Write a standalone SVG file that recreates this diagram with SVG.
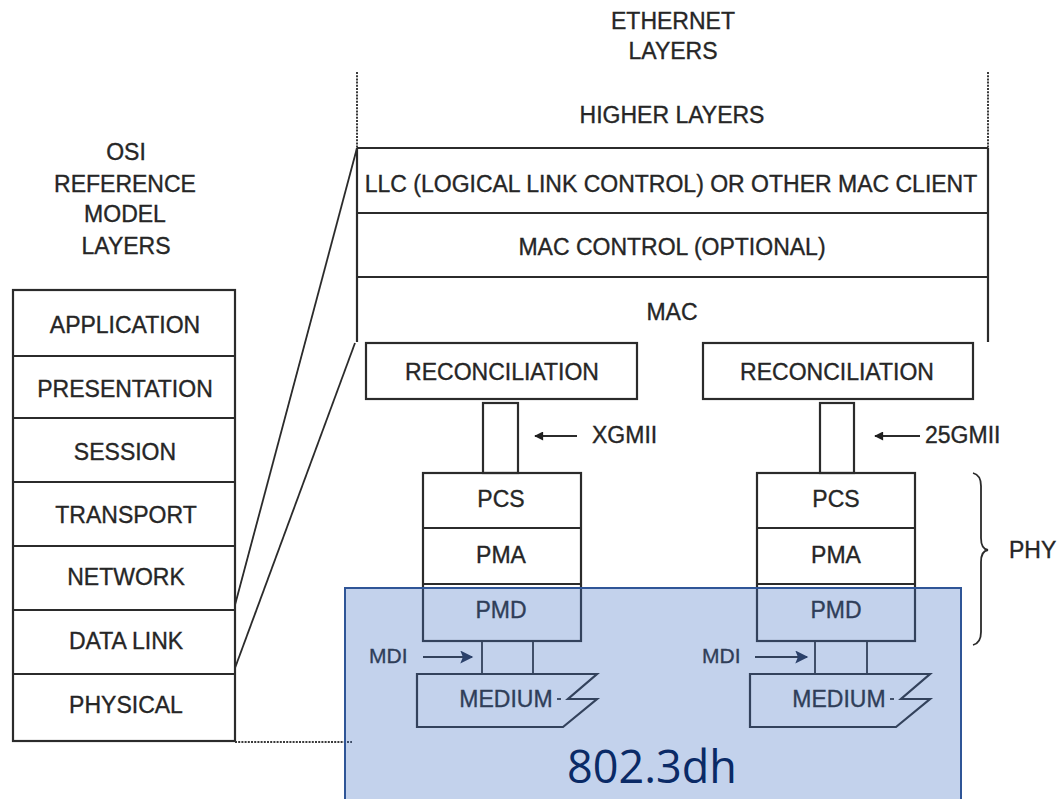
<svg xmlns="http://www.w3.org/2000/svg" width="1063" height="799" viewBox="0 0 1063 799">
  <style>
    .box { fill: none; stroke: #2b2b2b; stroke-width: 2.2; }
    .ln { fill: none; stroke: #2b2b2b; stroke-width: 1.8; }
    .dot { fill: none; stroke: #3a3a3a; stroke-width: 2; stroke-dasharray: 2 1.2; }
    .t { font-family: "Liberation Sans", Arial, sans-serif; font-size: 23px; fill: #262626; stroke: #262626; stroke-width: 0.35; text-anchor: middle; }
    .tl { font-family: "Liberation Sans", Arial, sans-serif; font-size: 23px; fill: #262626; stroke: #262626; stroke-width: 0.35; text-anchor: start; }
  </style>
  <defs>
    <marker id="head" viewBox="0 0 10 10" refX="9" refY="5" markerWidth="12" markerHeight="9" markerUnits="userSpaceOnUse" orient="auto">
      <path d="M0,0 L10,5 L0,10 Z" fill="#1f1f1f"/>
    </marker>
    <marker id="head-lg" viewBox="0 0 10 10" refX="9" refY="5" markerWidth="15" markerHeight="13" markerUnits="userSpaceOnUse" orient="auto">
      <path d="M0,0 L10,5 L0,10 L2,5 Z" fill="#1f2a40"/>
    </marker>
  </defs>
  <rect width="1063" height="799" fill="#ffffff"/>

  <!-- OSI reference model column -->
  <g id="osi-title">
    <text class="t" x="126" y="160">OSI</text>
    <text class="t" x="125" y="192">REFERENCE</text>
    <text class="t" x="125" y="222">MODEL</text>
    <text class="t" x="126" y="254">LAYERS</text>
  </g>
  <g id="osi-stack">
    <rect class="box" x="13" y="290" width="222" height="451"/>
    <path class="box" d="M13,356 H235 M13,418 H235 M13,482 H235 M13,546 H235 M13,610 H235 M13,674 H235"/>
    <text class="t" x="125" y="333">APPLICATION</text>
    <text class="t" x="125" y="397">PRESENTATION</text>
    <text class="t" x="125" y="460">SESSION</text>
    <text class="t" x="126" y="523">TRANSPORT</text>
    <text class="t" x="126" y="585">NETWORK</text>
    <text class="t" x="126" y="649">DATA LINK</text>
    <text class="t" x="126" y="713">PHYSICAL</text>
  </g>

  <!-- Ethernet layer column -->
  <g id="ethernet-title">
    <text class="t" x="673" y="29">ETHERNET</text>
    <text class="t" x="673" y="59">LAYERS</text>
  </g>
  <g id="higher-layers">
    <path class="dot" d="M357,72 V148 M988,72 V148"/>
    <text class="t" x="672" y="123">HIGHER LAYERS</text>
  </g>
  <g id="llc">
    <path class="box" d="M357,148 H988 M357,213 H988"/>
    <text class="t" x="671" y="192">LLC (LOGICAL LINK CONTROL) OR OTHER MAC CLIENT</text>
  </g>
  <g id="mac-control">
    <path class="box" d="M357,277 H988"/>
    <text class="t" x="672" y="255">MAC CONTROL (OPTIONAL)</text>
  </g>
  <g id="mac">
    <path class="box" d="M357,148 V342 M988,148 V342"/>
    <text class="t" x="672" y="320">MAC</text>
  </g>

  <!-- XGMII branch -->
  <g id="reconciliation-xgmii">
    <rect class="box" x="366" y="343" width="271" height="56"/>
    <text class="t" x="502" y="380">RECONCILIATION</text>
  </g>
  <g id="xgmii">
    <rect class="box" x="483" y="403" width="35" height="70"/>
    <text class="tl" x="592" y="443">XGMII</text>
  </g>
  <g id="phy-xgmii">
    <rect class="box" x="423" y="473" width="158" height="168"/>
    <path class="box" d="M423,528 H581 M423,584 H581"/>
    <text class="t" x="501" y="507">PCS</text>
    <text class="t" x="501" y="563">PMA</text>
    <text class="t" x="501" y="618">PMD</text>
  </g>
  <g id="mdi-xgmii">
    <path class="ln" d="M482,641 V674 M533,641 V674"/>
    <text class="tl" x="369" y="663" style="font-size:21px">MDI</text>
  </g>
  <g id="medium-xgmii">
    <path class="box" d="M417,674 H597 L568,699 H597 L563,727 H417 Z"/>
    <path class="ln" d="M557,699 H561"/>
    <text class="t" x="506" y="707">MEDIUM</text>
  </g>

  <!-- 25GMII branch -->
  <g id="reconciliation-25gmii">
    <rect class="box" x="703" y="343" width="270" height="56"/>
    <text class="t" x="837" y="380">RECONCILIATION</text>
  </g>
  <g id="gmii25">
    <rect class="box" x="820" y="403" width="34" height="70"/>
    <text class="tl" x="925" y="443">25GMII</text>
  </g>
  <g id="phy-25gmii">
    <rect class="box" x="757" y="473" width="158" height="168"/>
    <path class="box" d="M757,528 H915 M757,584 H915"/>
    <text class="t" x="836" y="507">PCS</text>
    <text class="t" x="836" y="563">PMA</text>
    <text class="t" x="836" y="618">PMD</text>
  </g>
  <g id="mdi-25gmii">
    <path class="ln" d="M815,641 V674 M867,641 V674"/>
    <text class="tl" x="702" y="663" style="font-size:21px">MDI</text>
  </g>
  <g id="medium-25gmii">
    <path class="box" d="M750,674 H930 L901,699 H930 L896,727 H750 Z"/>
    <path class="ln" d="M890,699 H894"/>
    <text class="t" x="839" y="707">MEDIUM</text>
  </g>

  <g id="phy-brace">
    <path class="ln" d="M973,473 Q981,475 981,486 V538 Q981,549 988,550 Q981,551 981,562 V632 Q981,643 973,645"/>
    <text class="tl" x="1009" y="558">PHY</text>
  </g>

  <!-- connectors -->
  <g id="connectors">
    <path class="ln" d="M235,605 L357,148"/>
    <path class="ln" d="M235,668 L355,343"/>
    <path class="dot" d="M235,742 H352"/>
    <path class="ln" d="M577,436 H535" marker-end="url(#head)"/>
    <path class="ln" d="M920,436 H875" marker-end="url(#head)"/>
    <path class="ln" d="M423,657 H472" marker-end="url(#head-lg)"/>
    <path class="ln" d="M755,657 H807" marker-end="url(#head-lg)"/>
  </g>

  <!-- highlight band for 802.3dh -->
  <g id="dh-highlight">
    <rect x="345" y="588" width="616" height="230" fill="#4472c4" fill-opacity="0.32" stroke="#2f5597" stroke-width="2"/>
    <text x="652" y="783" font-family="'Open Sans', 'Noto Sans', sans-serif" font-size="45" fill="#0a2a66" text-anchor="middle">802.3dh</text>
  </g>
</svg>
